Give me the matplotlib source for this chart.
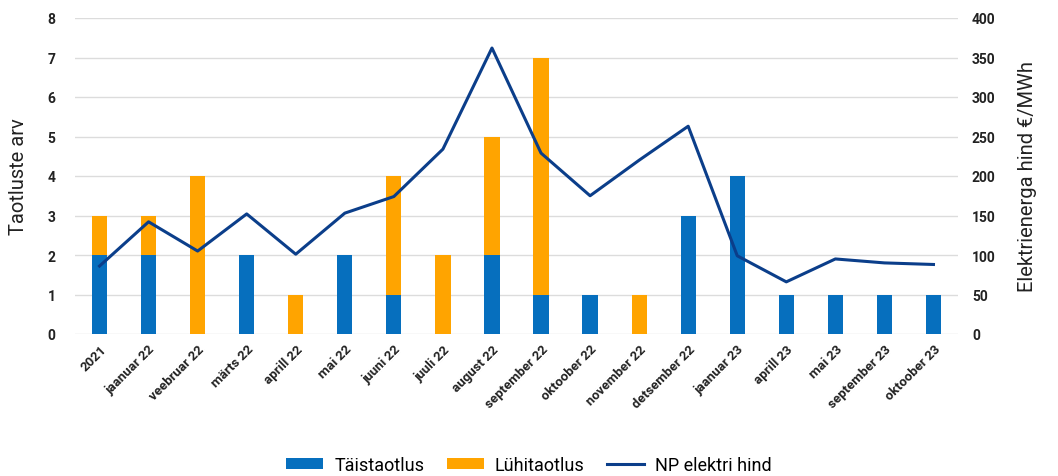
import matplotlib
matplotlib.use("Agg")
import matplotlib.pyplot as plt
import numpy as np
from matplotlib.lines import Line2D
from matplotlib.patches import Patch

plt.rcParams["font.family"] = ["Roboto", "DejaVu Sans"]

# Data
months = [
    "2021", "jaanuar 22", "veebruar 22", "märts 22", "aprill 22", "mai 22",
    "juuni 22", "juuli 22", "august 22", "september 22", "oktoober 22",
    "november 22", "detsember 22", "jaanuar 23", "aprill 23", "mai 23",
    "september 23", "oktoober 23",
]
taistaotlus = [2, 2, 0, 2, 0, 2, 1, 0, 2, 1, 1, 0, 3, 4, 1, 1, 1, 1]
luhitaotlus = [1, 1, 4, 0, 1, 0, 3, 2, 3, 6, 0, 1, 0, 0, 0, 0, 0, 0]
np_hind = [86, 142, 105, 152, 101, 153, 174, 234, 362, 229, 175, 220, 263,
           99, 66, 95, 90, 88]

BLUE = "#066fbe"
ORANGE = "#ffa400"
NAVY = "#0b3e8a"
GRID = "#dcdcdc"

fig = plt.figure(figsize=(10.58, 4.77), dpi=100)
ax = fig.add_axes([75 / 1058, 1 - 335 / 477, (958 - 75) / 1058, 316 / 477])
ax2 = ax.twinx()

x = np.arange(len(months))
ax.bar(x, taistaotlus, width=0.31, color=BLUE, zorder=2)
ax.bar(x, luhitaotlus, width=0.31, bottom=taistaotlus, color=ORANGE, zorder=2)
ax2.plot(x, np_hind, color=NAVY, linewidth=2.2, zorder=3)

ax.set_xlim(-0.5, len(months) - 0.5)
ax.set_ylim(0, 8)
ax2.set_ylim(0, 400)
ax.set_yticks(range(0, 9))
ax2.set_yticks(range(0, 401, 50))
ax.grid(axis="y", color=GRID, linewidth=1, zorder=0)
ax.set_axisbelow(True)

for a in (ax, ax2):
    for s in a.spines.values():
        s.set_visible(False)
    a.tick_params(length=0, labelsize=10, colors="#222222")
    for lbl in a.get_yticklabels():
        lbl.set_fontweight("bold")

ax.tick_params(axis="y", pad=14)
ax2.tick_params(axis="y", pad=10)
ax.set_xticks(x)
ax.set_xticklabels(months, rotation=45, ha="right", rotation_mode="anchor",
                   fontsize=9.5, fontweight="bold")
ax.tick_params(axis="x", pad=6)

ax.set_ylabel("Taotluste arv", fontsize=14.5, labelpad=14, color="#222222")
ax2.set_ylabel("Elektrienerga hind €/MWh", fontsize=14.5, labelpad=16,
               color="#222222")

handles = [
    Patch(facecolor=BLUE, label="Täistaotlus"),
    Patch(facecolor=ORANGE, label="Lühitaotlus"),
    Line2D([0], [0], color=NAVY, linewidth=2.2, label="NP elektri hind"),
]
fig.legend(handles=handles, loc="lower center", ncol=3, frameon=False,
           fontsize=13, bbox_to_anchor=(0.5, -0.03), handlelength=2.05,
           handleheight=0.6, handletextpad=0.6, columnspacing=1.25)

fig.savefig("out.png", dpi=100)
